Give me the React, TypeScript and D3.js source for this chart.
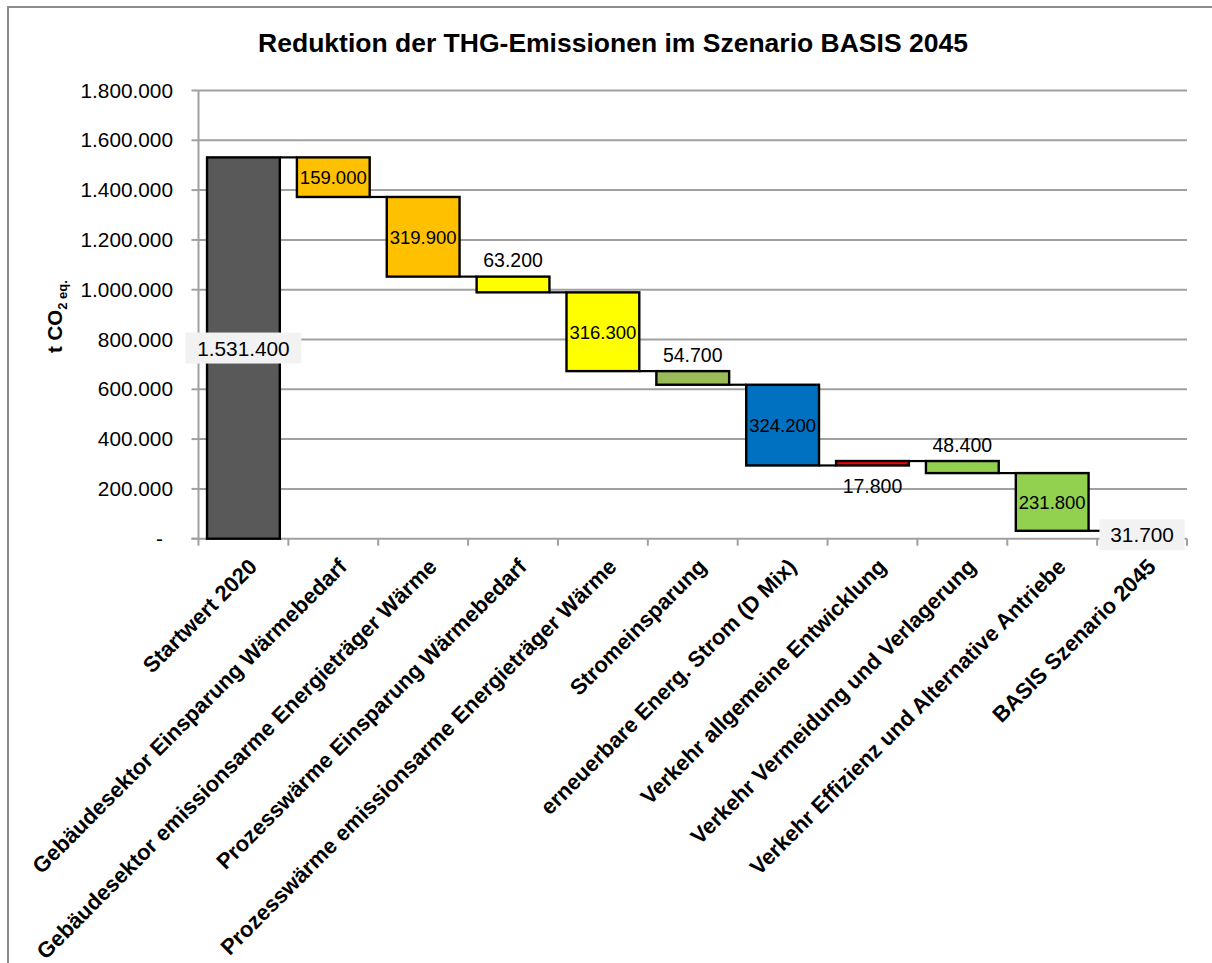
import React from "react";
import * as d3 from "d3";

const categories = [
  "Startwert 2020",
  "Gebäudesektor Einsparung Wärmebedarf",
  "Gebäudesektor emissionsarme Energieträger Wärme",
  "Prozesswärme Einsparung Wärmebedarf",
  "Prozesswärme emissionsarme Energieträger Wärme",
  "Stromeinsparung",
  "erneuerbare Energ. Strom (D Mix)",
  "Verkehr allgemeine Entwicklung",
  "Verkehr Vermeidung und Verlagerung",
  "Verkehr Effizienz und Alternative Antriebe",
  "BASIS Szenario 2045",
];
const changes = [1531400, -159000, -319900, -63200, -316300, -54700, -324200, 17800, -48400, -231800, 31700];
const isTotal = [true, false, false, false, false, false, false, false, false, false, true];
const barColors = ["#595959", "#FFC000", "#FFC000", "#FFFF00", "#FFFF00", "#9BBB59", "#0070C0", "#FF0000", "#92D050", "#92D050", "#595959"];
const labelPos = ["box", "center", "center", "above", "center", "above", "center", "below", "above", "center", "box"];
const yTicks = [0, 200000, 400000, 600000, 800000, 1000000, 1200000, 1400000, 1600000, 1800000];
const title = "Reduktion der THG-Emissionen im Szenario BASIS 2045";

const locale = d3.formatLocale({ decimal: ",", thousands: ".", grouping: [3], currency: ["", "€"] });
const fmt = locale.format(",.0f");
const FONT = "'Liberation Sans', Arial, sans-serif";

export default function App() {
  const W = 1212, H = 963;
  const left = 198.5, right = 1187, top = 90.5, bottom = 538.7;
  const x = d3.scaleBand<string>().domain(categories).range([left, right]).paddingInner(0.19).paddingOuter(0.095);
  const band = d3.scaleBand<string>().domain(categories).range([left, right]);
  const y = d3.scaleLinear().domain([0, 1800000]).range([bottom, top]);

  let running = 0;
  const bars = categories.map((c, i) => {
    let lo: number, hi: number, end: number;
    if (isTotal[i]) {
      lo = 0; hi = changes[i]; end = changes[i];
    } else {
      const start = running;
      end = running + changes[i];
      lo = Math.min(start, end); hi = Math.max(start, end);
    }
    running = end;
    return { c, i, lo, hi, end, v: Math.abs(changes[i]) };
  });

  const bw = x.bandwidth();

  return (
    <svg width={W} height={H} style={{ position: "absolute", left: 0, top: 0, background: "#fff" }} fontFamily={FONT}>
      <rect x={8} y={7} width={1300} height={1000} fill="#fff" stroke="#8c8c8c" strokeWidth={2} />
      <text x={613} y={52} textAnchor="middle" fontWeight="bold" fontSize={26.5} fill="#000">{title}</text>

      {yTicks.map((t) => (
        <g key={t}>
          {t > 0 && <line x1={left} x2={right} y1={y(t)} y2={y(t)} stroke="#a0a0a0" strokeWidth={2} />}
          <line x1={left - 7} x2={left} y1={y(t)} y2={y(t)} stroke="#a0a0a0" strokeWidth={2} />
          <text x={t === 0 ? 163 : 173} y={y(t) + 7} textAnchor="end" fontSize={20.8} fill="#000">
            {t === 0 ? "-" : fmt(t)}
          </text>
        </g>
      ))}
      <line x1={left} x2={left} y1={top} y2={bottom} stroke="#a0a0a0" strokeWidth={2} />
      <line x1={left - 7} x2={right} y1={bottom} y2={bottom} stroke="#a0a0a0" strokeWidth={2} />
      {categories.map((c, i) => (
        <line key={"t" + i} x1={band(c)!} x2={band(c)!} y1={bottom} y2={bottom + 7} stroke="#a0a0a0" strokeWidth={2} />
      ))}
      <line x1={right} x2={right} y1={bottom} y2={bottom + 7} stroke="#a0a0a0" strokeWidth={2} />

      <text transform="translate(62,353) rotate(-90)" fontWeight="bold" fontSize={20.5} fill="#000">
        t CO<tspan fontSize={13} dy={5}>2 eq.</tspan>
      </text>

      {bars.slice(0, -1).map((b, i) => {
        const nx = bars[i + 1];
        return (
          <line key={"c" + i} x1={x(b.c)! + bw} x2={x(nx.c)!} y1={y(b.end)} y2={y(b.end)} stroke="#000" strokeWidth={2.2} />
        );
      })}

      {bars.map((b) => (
        <rect key={"b" + b.i} x={x(b.c)!} y={y(b.hi)} width={bw} height={Math.max(0.5, y(b.lo) - y(b.hi))}
          fill={barColors[b.i]} stroke="#000" strokeWidth={2.4} />
      ))}

      {bars.map((b) => {
        const cx = x(b.c)! + bw / 2;
        const pos = labelPos[b.i];
        const txt = fmt(b.v);
        if (pos === "box") {
          const cy = (y(b.lo) + y(b.hi)) / 2;
          const tw = txt.length * 10.2;
          const w = tw + 24;
          return (
            <g key={"l" + b.i}>
              <rect x={cx - w / 2} y={cy - 15.5} width={w} height={31} fill="#f2f2f2" />
              <text x={cx} y={cy + 7.5} textAnchor="middle" fontSize={20.8} fill="#000">{txt}</text>
            </g>
          );
        }
        if (pos === "center") {
          const cy = (y(b.lo) + y(b.hi)) / 2;
          return <text key={"l" + b.i} x={cx} y={cy + 7} textAnchor="middle" fontSize={18.5} fill="#000">{txt}</text>;
        }
        if (pos === "above") {
          return <text key={"l" + b.i} x={cx} y={y(b.hi) - 9.5} textAnchor="middle" fontSize={19.5} fill="#000">{txt}</text>;
        }
        return <text key={"l" + b.i} x={cx} y={y(b.lo) + 28} textAnchor="middle" fontSize={19.5} fill="#000">{txt}</text>;
      })}

      {categories.map((c) => {
        const cx = band(c)! + band.bandwidth() / 2 + 15;
        return (
          <text key={"x" + c} transform={`translate(${cx},568) rotate(-45)`} textAnchor="end" fontWeight="bold" fontSize={22} fill="#000">
            {c}
          </text>
        );
      })}
    </svg>
  );
}
